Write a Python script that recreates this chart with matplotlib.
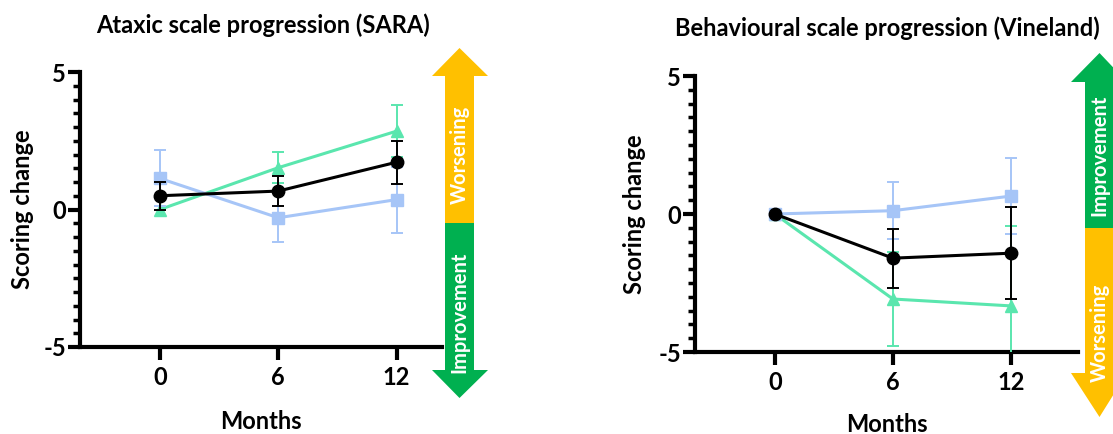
import numpy as np
import matplotlib.pyplot as plt
import matplotlib.patches as patches
from matplotlib.ticker import MultipleLocator

plt.rcParams['font.family'] = ['Lato', 'DejaVu Sans']
plt.rcParams['font.weight'] = 'bold'
plt.rcParams['axes.unicode_minus'] = False

months = [0, 6, 12]

# Ataxic scale (SARA): mean change and error
sara_black = [0.5, 0.67, 1.72]
sara_black_err = [0.5, 0.55, 0.78]
sara_green = [0.0, 1.52, 2.85]
sara_green_err = [0.0, 0.56, 0.95]
sara_blue = [1.13, -0.3, 0.36]
sara_blue_err = [1.02, 0.89, 1.2]

# Behavioural scale (Vineland)
vine_black = [0.0, -1.6, -1.42]
vine_black_err = [0.0, 1.07, 1.67]
vine_green = [0.0, -3.08, -3.33]
vine_green_err = [0.0, 1.7, 2.9]
vine_blue = [0.0, 0.12, 0.65]
vine_blue_err = [0.0, 1.03, 1.37]

BLUE = '#a6c5f7'
GREEN = '#5ae6ae'
ORANGE = '#ffc000'
DGREEN = '#00b050'

W, H = 1113, 434
fig = plt.figure(figsize=(W / 100, H / 100), dpi=100)


def px_axes(x0, x1, y_top, y_bot):
    return fig.add_axes([x0 / W, 1 - y_bot / H, (x1 - x0) / W, (y_bot - y_top) / H])


def draw_series(ax, y, err, color, marker, ms, z):
    ax.errorbar(months, y, yerr=err, color=color, ecolor=color, marker=marker,
                markersize=ms, linewidth=2.2, elinewidth=1.4, capsize=4.5,
                capthick=1.4, zorder=z, clip_on=True)


def style_axes(ax, xmax, ylab_x, xlab_y):
    ax.set_ylim(-5, 5)
    ax.set_xlim(-4.05, xmax)
    ax.set_xticks(months)
    ax.set_yticks([-5, 0, 5])
    ax.yaxis.set_minor_locator(MultipleLocator(0.5))
    for s in ['top', 'right']:
        ax.spines[s].set_visible(False)
    for s in ['left', 'bottom']:
        ax.spines[s].set_linewidth(3)
    ax.tick_params(axis='y', which='major', length=9, width=3, labelsize=17, pad=1)
    ax.tick_params(axis='y', which='minor', length=5, width=2.5)
    ax.tick_params(axis='x', which='major', length=9, width=3, labelsize=17, pad=5)
    ax.tick_params(axis='x', which='minor', length=0)
    for lab in ax.get_xticklabels() + ax.get_yticklabels():
        lab.set_fontweight('bold')
    ax.set_ylabel('Scoring change', fontsize=17, fontweight='bold', va='center')
    ax.yaxis.set_label_coords(ylab_x, 0.5)
    ax.set_xlabel('Months', fontsize=17, fontweight='bold', va='center')
    ax.xaxis.set_label_coords(0.5, xlab_y)


def draw_arrow(x0, x1, shaft0, shaft1, y_tip_top, y_head_top, y_split, y_head_bot, y_tip_bot,
               top_color, bot_color, top_text, bot_text, top_c, bot_c):
    def P(x, y):
        return (x / W, 1 - y / H)
    xc = (shaft0 + shaft1) / 2
    top = patches.Polygon([P(x0, y_head_top), P(xc, y_tip_top), P(x1, y_head_top),
                           P(shaft1, y_head_top), P(shaft1, y_split), P(shaft0, y_split),
                           P(shaft0, y_head_top)], closed=True, facecolor=top_color,
                          edgecolor='none', transform=fig.transFigure)
    bot = patches.Polygon([P(shaft0, y_split), P(shaft1, y_split), P(shaft1, y_head_bot),
                           P(x1, y_head_bot), P(xc, y_tip_bot), P(x0, y_head_bot),
                           P(shaft0, y_head_bot)], closed=True, facecolor=bot_color,
                          edgecolor='none', transform=fig.transFigure)
    fig.patches.extend([top, bot])
    fig.text(xc / W, 1 - top_c / H, top_text, rotation=90, color='white',
             fontsize=14.5, fontweight='bold', ha='center', va='center')
    fig.text(xc / W, 1 - bot_c / H, bot_text, rotation=90, color='white',
             fontsize=14.5, fontweight='bold', ha='center', va='center')


# Left panel
ax1 = px_axes(80, 442, 72, 347)
draw_series(ax1, sara_green, sara_green_err, GREEN, '^', 9, 3)
draw_series(ax1, sara_blue, sara_blue_err, BLUE, 's', 8.5, 4)
draw_series(ax1, sara_black, sara_black_err, 'black', 'o', 9, 5)
style_axes(ax1, 14.3, -0.16, -0.27)
fig.text(263 / W, 1 - 25 / H, 'Ataxic scale progression (SARA)', fontsize=17,
         fontweight='bold', ha='center', va='center')

# Right panel
ax2 = px_axes(695, 1078, 76, 352)
draw_series(ax2, vine_green, vine_green_err, GREEN, '^', 9, 3)
draw_series(ax2, vine_blue, vine_blue_err, BLUE, 's', 8.5, 4)
draw_series(ax2, vine_black, vine_black_err, 'black', 'o', 9, 5)
style_axes(ax2, 15.4, -0.157, -0.262)
fig.text(887 / W, 1 - 28 / H, 'Behavioural scale progression (Vineland)', fontsize=17,
         fontweight='bold', ha='center', va='center')

draw_arrow(432, 488, 445, 474, 48, 76, 223, 370, 398, ORANGE, DGREEN,
           'Worsening', 'Improvement', 155, 312)
draw_arrow(1071, 1127, 1085, 1114, 53, 82, 228, 373, 417, DGREEN, ORANGE,
           'Improvement', 'Worsening', 155, 333)

fig.savefig('out.png', dpi=100)
